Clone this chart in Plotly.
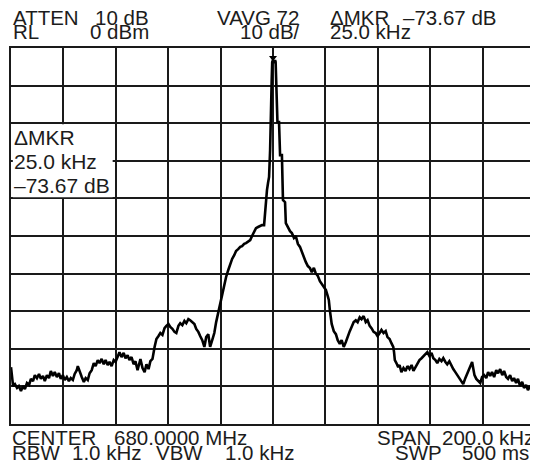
import plotly.graph_objects as go

# Frequency offset from 680.0000 MHz centre, kHz
freq_khz = [
    -100.0, -99.6, -99.2, -98.5, -97.7, -97.0, -96.2, -95.4, -94.7, -93.9, -93.1, -92.4, -91.6, -90.9, -90.1,
    -89.3, -88.6, -87.8, -87.1, -86.3, -85.5, -84.8, -84.0, -83.3, -82.5, -81.7, -81.0, -80.2, -79.5, -78.7,
    -77.9, -77.2, -76.4, -75.7, -74.9, -74.5, -73.8, -73.0, -72.2, -71.5, -70.7, -70.0, -69.2, -68.4, -67.7,
    -66.9, -66.2, -65.4, -64.6, -63.9, -63.1, -62.4, -61.6, -60.8, -60.1, -59.3, -58.6, -57.8, -57.0, -56.3,
    -55.5, -54.8, -54.0, -53.2, -52.5, -51.7, -50.9, -50.6, -49.8, -49.0, -48.3, -47.5, -46.8, -46.0, -45.2,
    -44.5, -43.7, -43.0, -42.2, -41.4, -40.7, -39.9, -39.2, -38.4, -37.6, -36.9, -36.1, -35.4, -34.6, -33.8,
    -33.1, -32.3, -31.6, -30.8, -30.0, -29.3, -28.5, -27.8, -27.0, -26.2, -25.5, -24.7, -24.0, -23.2, -22.4,
    -21.7, -20.9, -20.2, -19.4, -18.6, -17.9, -17.1, -16.3, -15.6, -14.8, -14.1, -13.3, -12.5, -11.8, -11.0,
    -10.3, -9.5, -8.7, -8.0, -7.2, -6.5, -5.7, -4.9, -4.2, -3.4, -3.0, -2.7, -2.3, -1.9, -1.5,
    -1.1, -1.0, -0.8, -0.5, -0.3, 0.0, 0.4, 0.8, 1.0, 1.3, 1.5, 1.7, 2.3, 2.5, 2.7,
    3.4, 3.6, 3.8, 4.2, 4.6, 4.9, 5.7, 6.5, 7.2, 8.0, 8.7, 9.5, 10.3, 11.0, 11.8,
    12.5, 13.3, 14.1, 14.8, 15.6, 16.3, 17.1, 17.9, 18.6, 19.4, 20.2, 20.9, 21.3, 21.7, 22.1,
    22.4, 23.2, 24.0, 24.7, 25.5, 26.2, 27.0, 27.8, 28.5, 29.3, 30.0, 30.8, 31.6, 32.3, 33.1,
    33.8, 34.6, 35.4, 36.1, 36.9, 37.6, 38.4, 39.2, 39.9, 40.7, 41.4, 42.2, 43.0, 43.7, 44.5,
    45.2, 45.9, 46.2, 46.5, 47.1, 47.8, 48.3, 49.0, 49.8, 50.6, 51.3, 52.1, 52.9, 53.6, 54.4,
    55.1, 55.9, 56.7, 57.4, 58.2, 58.9, 59.7, 60.5, 61.2, 62.0, 62.7, 63.5, 64.3, 65.0, 65.8,
    66.5, 67.3, 68.1, 68.8, 69.6, 70.3, 71.1, 71.9, 72.6, 73.4, 74.1, 74.9, 75.7, 76.0, 76.4,
    76.9, 77.6, 78.3, 79.1, 79.8, 80.6, 81.4, 82.1, 82.9, 83.6, 84.4, 85.2, 85.9, 86.7, 87.5,
    88.2, 89.0, 89.7, 90.5, 91.3, 92.0, 92.8, 93.5, 94.3, 95.1, 95.8, 96.6, 97.3, 98.1, 98.9,
    99.6, 100.0,
]

# Displayed level, dBm (RL 0 dBm, 10 dB/div)
level_dbm = [
    -84.9, -87.8, -89.9, -89.4, -90.4, -89.9, -91.2, -89.9, -90.7, -89.1, -89.6, -88.0, -88.6, -87.0, -87.8,
    -86.7, -88.0, -87.2, -88.6, -87.0, -87.8, -85.9, -87.2, -86.2, -87.5, -86.5, -88.0, -87.0, -88.3, -87.5,
    -88.6, -87.8, -88.3, -86.7, -85.7, -84.6, -86.2, -87.5, -88.8, -87.8, -88.3, -86.5, -85.7, -83.8, -84.6,
    -83.0, -83.8, -82.7, -84.1, -83.0, -84.3, -83.5, -84.6, -83.0, -83.5, -81.9, -80.9, -82.2, -81.1, -82.5,
    -81.7, -83.0, -82.2, -84.1, -83.3, -85.7, -83.8, -82.7, -85.1, -86.2, -84.1, -85.4, -83.3, -82.7, -79.5,
    -77.4, -76.6, -75.8, -76.3, -74.5, -73.9, -73.4, -74.2, -74.7, -75.5, -75.8, -73.9, -73.2, -73.7, -72.6,
    -73.2, -72.1, -72.4, -72.9, -73.4, -74.7, -75.5, -76.6, -77.7, -79.5, -76.9, -76.1, -79.5, -77.7, -75.8,
    -72.9, -70.2, -67.8, -65.7, -63.0, -60.9, -59.1, -57.5, -56.1, -55.1, -54.0, -53.5, -52.9, -52.7, -52.1,
    -51.9, -51.6, -51.1, -50.0, -48.7, -47.9, -47.6, -47.3, -47.1, -47.1, -43.1, -40.4, -37.8, -35.9, -34.3,
    -27.1, -21.8, -13.8, -8.5, -3.7, -3.2, -4.0, -3.2, -3.7, -9.8, -17.8, -19.7, -19.7, -23.1, -28.5,
    -28.5, -35.1, -40.4, -40.7, -41.0, -46.6, -47.9, -48.7, -49.2, -50.5, -50.0, -52.1, -52.9, -54.3, -55.6,
    -56.9, -58.0, -58.5, -59.6, -58.5, -59.9, -60.6, -62.0, -62.8, -63.6, -64.4, -66.0, -67.0, -69.7, -71.3,
    -73.4, -75.3, -76.1, -77.7, -78.7, -77.7, -79.5, -78.2, -76.6, -75.3, -74.2, -72.9, -72.4, -72.9, -71.6,
    -72.1, -71.3, -72.9, -72.4, -73.9, -74.5, -75.5, -75.8, -76.6, -75.8, -75.0, -75.8, -75.3, -76.9, -77.4,
    -78.5, -79.5, -80.9, -83.0, -83.8, -84.9, -84.3, -86.2, -85.1, -85.9, -84.6, -85.4, -84.3, -85.9, -84.9,
    -84.1, -83.0, -82.5, -81.9, -81.4, -80.9, -81.9, -81.1, -82.5, -83.0, -83.8, -82.7, -83.3, -82.5, -83.5,
    -84.1, -83.3, -84.6, -85.4, -86.2, -87.0, -87.8, -88.6, -89.4, -87.8, -86.7, -85.4, -84.3, -83.5, -85.1,
    -87.0, -88.0, -88.6, -89.1, -87.5, -87.0, -87.8, -86.2, -87.2, -86.2, -87.5, -85.7, -86.5, -85.4, -87.0,
    -85.9, -87.5, -88.0, -87.0, -88.6, -87.8, -89.1, -88.0, -89.9, -88.8, -90.4, -89.6, -91.0, -89.9, -91.2,
    -90.2, -90.7,
]

marker_freq = [0.0]
marker_level = [-2.6]

TXT = "#1c1c1c"
FONT = "Liberation Sans, Arial, Helvetica, sans-serif"

fig = go.Figure()
fig.add_trace(go.Scatter(x=freq_khz, y=level_dbm, mode="lines",
                         line=dict(color="black", width=2.6), hoverinfo="skip"))
fig.add_trace(go.Scatter(x=marker_freq, y=marker_level, mode="markers",
                         marker=dict(symbol="triangle-down", size=7, color="black"), hoverinfo="skip"))

# The page body adds an 8px margin, so the figure is sized/offset to compensate
OFF = 8
W, H = 538 - OFF, 470 - OFF
L, T = 11 - OFF, 48 - OFF
pw, ph = 526, 376
R = W - L - pw
B = H - T - ph


def px(x):  # picture pixel -> paper fraction
    return (x - OFF - L) / pw


def py(y):
    return (T + ph - (y - OFF)) / ph


def ann(text, x, y, anchor="left", size=20.5):
    fig.add_annotation(text=text, x=px(x), y=py(y), xref="paper", yref="paper",
                       xanchor=anchor, yanchor="middle", showarrow=False,
                       font=dict(family=FONT, size=size, color=TXT), borderpad=0)


R1, R2 = 17.5, 31.5
F1, F2 = 438, 452.5
# header
ann("ATTEN", 12, R1)
ann("10 dB", 151, R1, "right")
ann("RL", 12, R2)
ann("0 dBm", 151, R2, "right")
ann("VAVG 72", 217, R1)
ann("10 dB/", 302, R2, "right")
ann("\u0394MKR", 330, R1)
ann("\u201373.67 dB", 499, R1, "right")
ann("25.0 kHz", 330, R2)
# footer
ann("CENTER", 11, F1)
ann("680.0000 MHz", 249, F1, "right")
ann("SPAN", 377, F1)
ann("200.0 kHz", 537, F1, "right")
ann("RBW", 11, F2)
ann("1.0 kHz", 144, F2, "right")
ann("VBW", 156, F2)
ann("1.0 kHz", 297, F2, "right")
ann("SWP", 395, F2)
ann("500 ms", 532, F2, "right")
# delta-marker box
fig.add_shape(type="rect", xref="x", yref="y", x0=-99.3, x1=-61.2, y0=-20.3, y1=-39.7,
              fillcolor="white", line=dict(width=0), layer="above")
ann("\u0394MKR", 13, 137, size=21)
ann("25.0 kHz", 13, 161, size=21)
ann("\u201373.67 dB", 13, 185, size=21)

axis_common = dict(showgrid=True, gridcolor="#1a1a1a", gridwidth=1.5, zeroline=False,
                   showline=True, linecolor="#1a1a1a", linewidth=1.5, mirror=True,
                   showticklabels=False, ticks="", fixedrange=True)
fig.update_xaxes(range=[-100, 100], dtick=20, tick0=-100, **axis_common)
fig.update_yaxes(range=[-100, 0], dtick=10, tick0=-100, **axis_common)

fig.update_layout(width=W, height=H, margin=dict(l=L, r=R, t=T, b=B),
                  paper_bgcolor="white", plot_bgcolor="white", showlegend=False)

fig.write_html("out.html")
